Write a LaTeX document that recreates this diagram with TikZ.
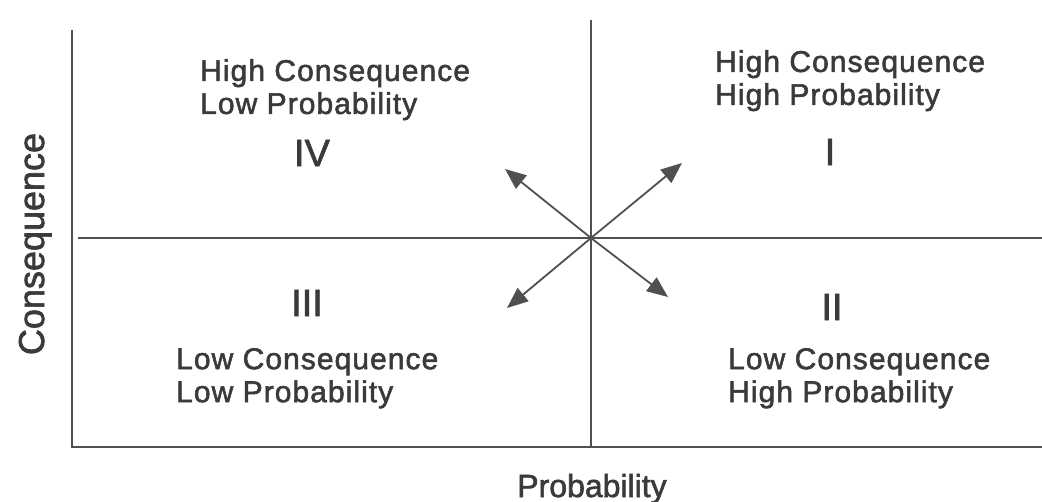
\documentclass[tikz,border=0pt]{standalone}
\usepackage{fontspec}
\setmainfont{Liberation Sans}[FakeBold=1.8]
\usetikzlibrary{arrows.meta}
\definecolor{ink}{HTML}{3A3A3A}
\definecolor{rule}{HTML}{505050}

\begin{document}
\begin{tikzpicture}[
    x=1pt, y=-1pt,
    text=ink,
    >={Triangle[length=21pt, width=17pt]},
    axis/.style={draw=rule, line width=1.6pt},
    arr/.style={draw=rule, fill=rule, line width=1.8pt, ->},
    quad/.style={anchor=north west, align=left, inner sep=0pt,
                 font=\fontsize{30}{33}\selectfont\addfontfeatures{LetterSpace=3.5}},
    roman/.style={inner sep=0pt, font=\fontsize{38}{40}\selectfont},
    axlbl/.style={anchor=base, inner sep=0pt, font=\fontsize{32}{34}\selectfont},
]
\useasboundingbox (0,0) rectangle (1042,502);

% --- frame and quadrant lines ---
\coordinate (ytop) at (72,30);
\coordinate (orig) at (72,447);
\coordinate (xend) at (1042,447);
\coordinate (c)    at (591,238);
\coordinate (vtop) at (591,20);
\coordinate (vbot) at (591,447);
\coordinate (hl)   at (78,238);
\coordinate (hr)   at (1042,238);

\draw[axis] (ytop) -- (orig) -- (xend);
\draw[axis] (vtop) -- (vbot);
\draw[axis] (hl) -- (hr);

% --- arrows out of the centre ---
\coordinate (nw) at (505,169);
\coordinate (ne) at (682,163);
\coordinate (sw) at (507,308);
\coordinate (se) at (668,297);
\foreach \t in {nw,ne,sw,se}
  \draw[arr] (c) -- (\t);

% --- quadrant texts ---
\node[quad] (q4) at (200,59) {High Consequence\\Low Probability};
\node[quad] (q1) at (715,50) {High Consequence\\High Probability};
\node[quad] (q3) at (176,348) {Low Consequence\\Low Probability};
\node[quad] (q2) at (728,348) {Low Consequence\\High Probability};

\node[roman] (r4) at (312,153) {IV};
\node[roman] (r1) at (830,152) {I};
\node[roman] (r3) at (307,303) {III};
\node[roman] (r2) at (832,307) {II};

% --- axis labels ---
\node[axlbl] (xlbl) at (592,497) {Probability};
\node[axlbl, rotate=90, font=\fontsize{36}{38}\selectfont] (ylbl) at (44,244) {Consequence};

\end{tikzpicture}
\end{document}
